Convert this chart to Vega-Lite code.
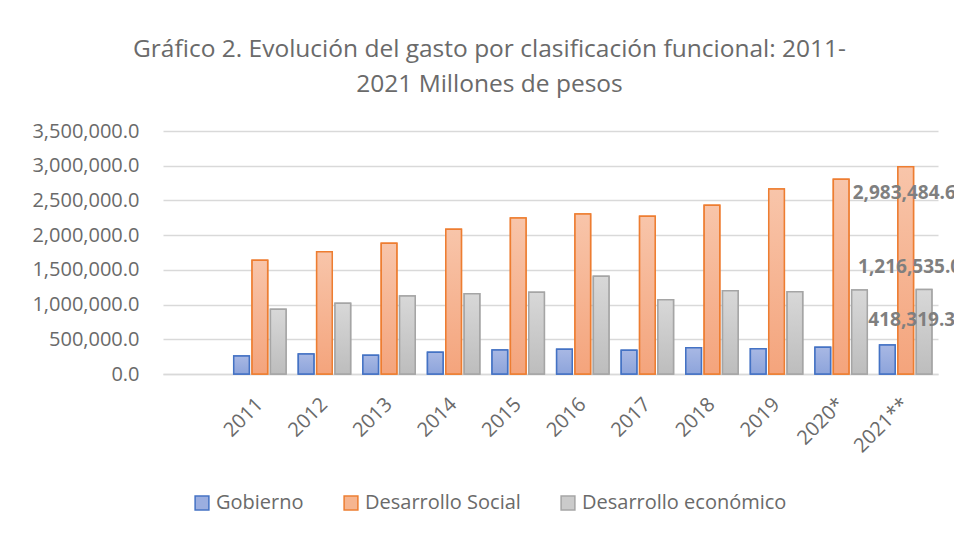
{
  "$schema": "https://vega.github.io/schema/vega-lite/v6.json",
  "width": 775,
  "height": 243,
  "autosize": {"type": "none"},
  "padding": {"left": 163, "top": 131, "right": 16, "bottom": 159},
  "background": "white",
  "config": {
    "font": "Open Sans",
    "view": {"stroke": null},
    "axis": {"labelColor": "#6A6A6A", "labelFont": "Open Sans", "labelFontSize": 20, "titleColor": "#595959"},
    "legend": {"labelColor": "#6A6A6A", "labelFont": "Open Sans", "labelFontSize": 20, "labelLimit": 400}
  },
  "title": {
    "text": ["Gráfico 2. Evolución del gasto por clasificación funcional: 2011-", "2021 Millones de pesos"],
    "fontSize": 24.5,
    "font": "Open Sans",
    "fontWeight": "normal",
    "color": "#6A6A6A",
    "lineHeight": 35,
    "anchor": "middle",
    "dx": -61,
    "offset": 24
  },
  "data": {
    "values": [
      {"year": "2011", "serie": "Gobierno", "valor": 259000},
      {"year": "2011", "serie": "Desarrollo Social", "valor": 1638000},
      {"year": "2011", "serie": "Desarrollo económico", "valor": 932000},
      {"year": "2012", "serie": "Gobierno", "valor": 288000},
      {"year": "2012", "serie": "Desarrollo Social", "valor": 1762000},
      {"year": "2012", "serie": "Desarrollo económico", "valor": 1018000},
      {"year": "2013", "serie": "Gobierno", "valor": 269000},
      {"year": "2013", "serie": "Desarrollo Social", "valor": 1882000},
      {"year": "2013", "serie": "Desarrollo económico", "valor": 1123000},
      {"year": "2014", "serie": "Gobierno", "valor": 312000},
      {"year": "2014", "serie": "Desarrollo Social", "valor": 2084000},
      {"year": "2014", "serie": "Desarrollo económico", "valor": 1157000},
      {"year": "2015", "serie": "Gobierno", "valor": 346000},
      {"year": "2015", "serie": "Desarrollo Social", "valor": 2247000},
      {"year": "2015", "serie": "Desarrollo económico", "valor": 1176000},
      {"year": "2016", "serie": "Gobierno", "valor": 356000},
      {"year": "2016", "serie": "Desarrollo Social", "valor": 2304000},
      {"year": "2016", "serie": "Desarrollo económico", "valor": 1407000},
      {"year": "2017", "serie": "Gobierno", "valor": 342000},
      {"year": "2017", "serie": "Desarrollo Social", "valor": 2271000},
      {"year": "2017", "serie": "Desarrollo económico", "valor": 1070000},
      {"year": "2018", "serie": "Gobierno", "valor": 379000},
      {"year": "2018", "serie": "Desarrollo Social", "valor": 2430000},
      {"year": "2018", "serie": "Desarrollo económico", "valor": 1200000},
      {"year": "2019", "serie": "Gobierno", "valor": 365000},
      {"year": "2019", "serie": "Desarrollo Social", "valor": 2665000},
      {"year": "2019", "serie": "Desarrollo económico", "valor": 1186000},
      {"year": "2020*", "serie": "Gobierno", "valor": 384000},
      {"year": "2020*", "serie": "Desarrollo Social", "valor": 2804000},
      {"year": "2020*", "serie": "Desarrollo económico", "valor": 1210000},
      {"year": "2021**", "serie": "Gobierno", "valor": 418319.3},
      {"year": "2021**", "serie": "Desarrollo Social", "valor": 2983484.6},
      {"year": "2021**", "serie": "Desarrollo económico", "valor": 1216535.0}
    ]
  },
  "encoding": {
    "x": {
      "field": "year",
      "type": "nominal",
      "sort": null,
      "scale": {
        "domain": ["", "2011", "2012", "2013", "2014", "2015", "2016", "2017", "2018", "2019", "2020*", "2021**"],
        "paddingInner": 0.19,
        "paddingOuter": 0.095
      },
      "axis": {
        "title": null,
        "labelAngle": -45,
        "labelAlign": "right",
        "labelBaseline": "middle",
        "labelPadding": 27,
        "ticks": false,
        "domainColor": "#D9D9D9",
        "domainWidth": 1.5
      }
    },
    "xOffset": {
      "field": "serie",
      "type": "nominal",
      "sort": ["Gobierno", "Desarrollo Social", "Desarrollo económico"],
      "scale": {"paddingInner": 0.15, "paddingOuter": 0}
    },
    "y": {
      "field": "valor",
      "type": "quantitative",
      "scale": {"domain": [0, 3500000], "nice": false},
      "axis": {
        "title": null,
        "values": [0, 500000, 1000000, 1500000, 2000000, 2500000, 3000000, 3500000],
        "format": ",.1f",
        "domain": false,
        "ticks": false,
        "labelPadding": 24,
        "gridColor": "#D9D9D9",
        "gridWidth": 1.5
      }
    }
  },
  "layer": [
    {
      "mark": {"type": "bar", "strokeWidth": 1.5},
      "encoding": {
        "fill": {
          "field": "serie",
          "type": "nominal",
          "sort": ["Gobierno", "Desarrollo Social", "Desarrollo económico"],
          "scale": {
            "domain": ["Gobierno", "Desarrollo Social", "Desarrollo económico"],
            "range": ["#9BAEE0", "#F6B590", "#CBCBCB"]
          },
          "legend": {
            "title": null,
            "orient": "none",
            "direction": "horizontal",
            "legendX": 29,
            "legendY": 362,
            "symbolType": "square",
            "symbolSize": 190,
            "symbolStrokeWidth": 1.5,
            "columnPadding": 37,
            "labelOffset": 4
          }
        },
        "stroke": {
          "field": "serie",
          "type": "nominal",
          "sort": ["Gobierno", "Desarrollo Social", "Desarrollo económico"],
          "scale": {
            "domain": ["Gobierno", "Desarrollo Social", "Desarrollo económico"],
            "range": ["#4472C4", "#ED7D31", "#A5A5A5"]
          },
          "legend": {
            "title": null,
            "orient": "none",
            "direction": "horizontal",
            "legendX": 29,
            "legendY": 362,
            "symbolType": "square",
            "symbolSize": 190,
            "symbolStrokeWidth": 1.5,
            "columnPadding": 37,
            "labelOffset": 4
          }
        }
      }
    },
    {
      "transform": [{"filter": "datum.serie == 'Gobierno'"}],
      "mark": {"type": "bar", "strokeWidth": 1.5, "stroke": "#4472C4",
        "fill": {"gradient": "linear", "x1": 0, "y1": 0, "x2": 0, "y2": 1, "stops": [{"offset": 0, "color": "#A8B8E4"}, {"offset": 1, "color": "#8DA4DB"}]}},
      "encoding": {}
    },
    {
      "transform": [{"filter": "datum.serie == 'Desarrollo Social'"}],
      "mark": {"type": "bar", "strokeWidth": 1.5, "stroke": "#ED7D31",
        "fill": {"gradient": "linear", "x1": 0, "y1": 0, "x2": 0, "y2": 1, "stops": [{"offset": 0, "color": "#F8C5AA"}, {"offset": 1, "color": "#F4A47C"}]}},
      "encoding": {}
    },
    {
      "transform": [{"filter": "datum.serie == 'Desarrollo económico'"}],
      "mark": {"type": "bar", "strokeWidth": 1.5, "stroke": "#A5A5A5",
        "fill": {"gradient": "linear", "x1": 0, "y1": 0, "x2": 0, "y2": 1, "stops": [{"offset": 0, "color": "#D8D8D8"}, {"offset": 1, "color": "#BDBDBD"}]}},
      "encoding": {}
    },
    {
      "transform": [{"filter": "datum.year == '2021**' && datum.serie == 'Desarrollo Social'"}],
      "mark": {"type": "text", "align": "left", "baseline": "middle", "dx": -53, "dy": 26, "font": "Open Sans", "fontSize": 19, "fontWeight": "bold", "color": "#7F7F7F"},
      "encoding": {"text": {"field": "valor", "type": "quantitative", "format": ",.1f"}}
    },
    {
      "transform": [{"filter": "datum.year == '2021**' && datum.serie == 'Desarrollo económico'"}],
      "mark": {"type": "text", "align": "left", "baseline": "middle", "dx": -66, "dy": -23, "font": "Open Sans", "fontSize": 19, "fontWeight": "bold", "color": "#7F7F7F"},
      "encoding": {"text": {"field": "valor", "type": "quantitative", "format": ",.1f"}}
    },
    {
      "transform": [{"filter": "datum.year == '2021**' && datum.serie == 'Gobierno'"}],
      "mark": {"type": "text", "align": "left", "baseline": "middle", "dx": -19, "dy": -25, "font": "Open Sans", "fontSize": 19, "fontWeight": "bold", "color": "#7F7F7F"},
      "encoding": {"text": {"field": "valor", "type": "quantitative", "format": ",.1f"}}
    }
  ]
}
